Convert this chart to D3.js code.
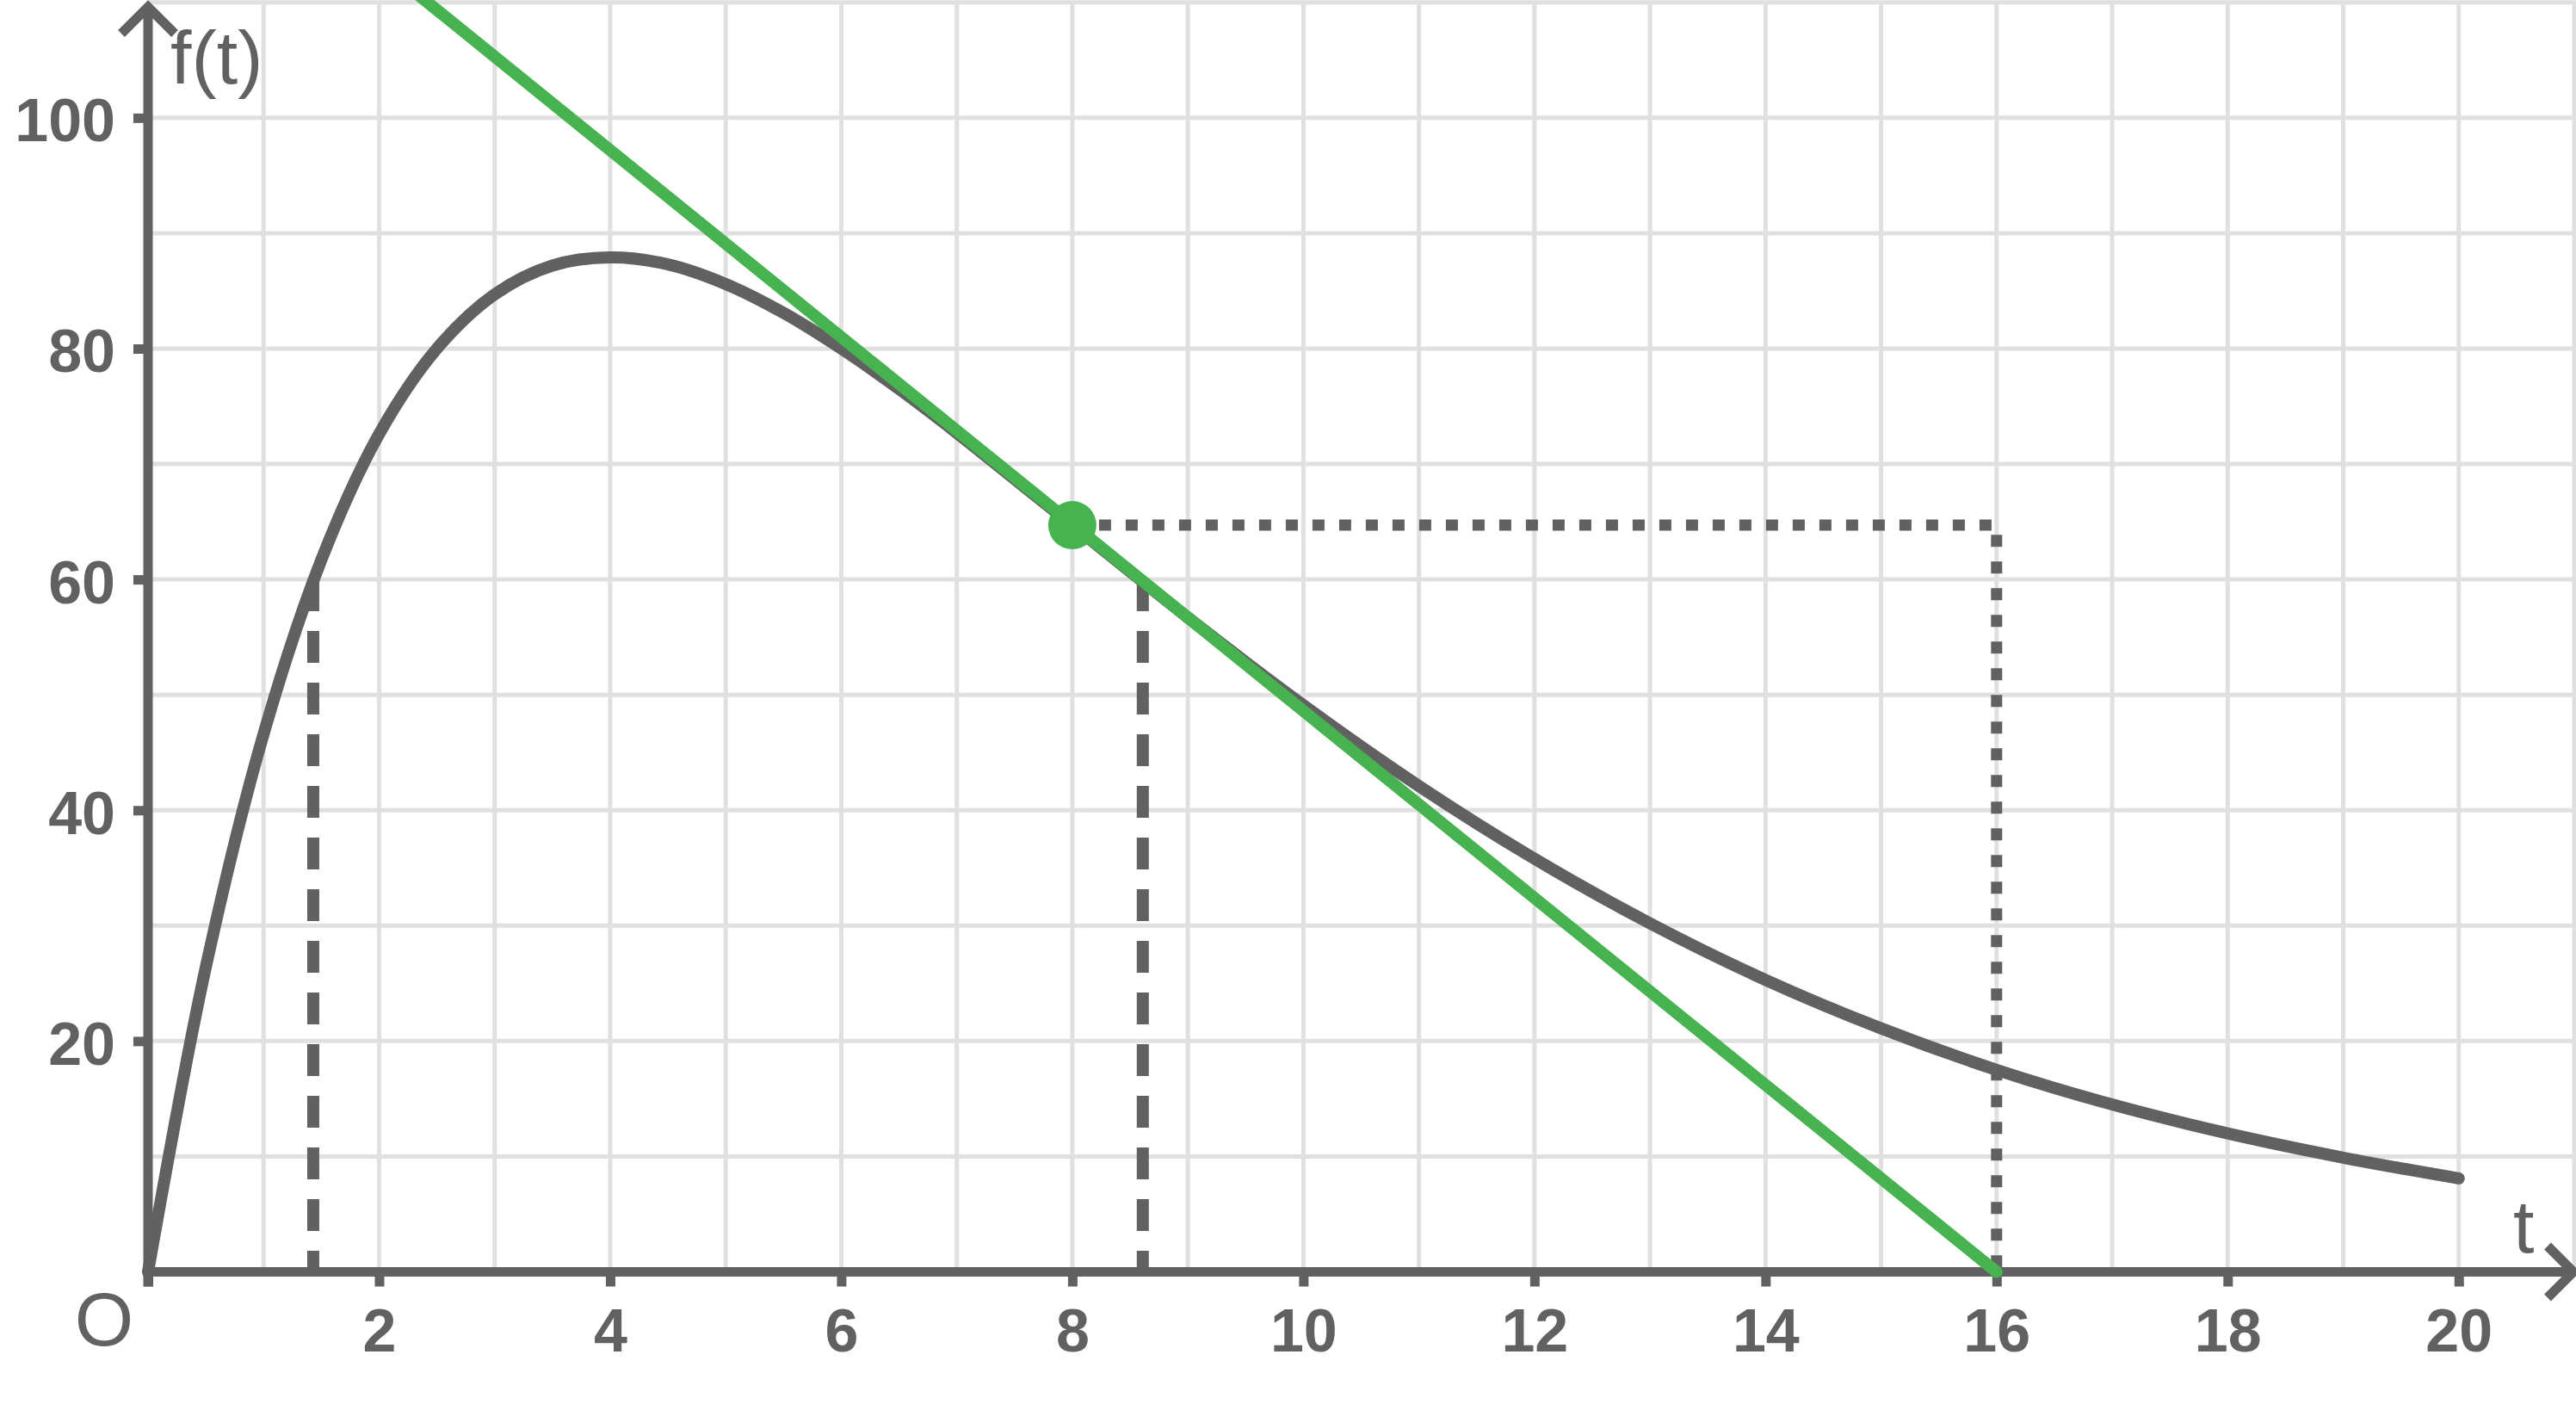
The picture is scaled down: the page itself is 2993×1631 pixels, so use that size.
<!DOCTYPE html>
<html>
<head>
<meta charset="utf-8">
<script src="https://cdnjs.cloudflare.com/ajax/libs/d3/7.8.5/d3.min.js"></script>
<style>
  html, body { margin: 0; padding: 0; background: #ffffff; }
  svg { display: block; }
</style>
</head>
<body>
<script>
// ---- data ----
const curveT = [0, 0.5, 1, 1.5, 2, 2.5, 3, 3.5, 4, 4.5, 5, 5.5, 6, 6.5, 7, 7.5, 8, 9, 10, 11, 12, 13, 14, 15, 16, 17, 18, 19, 20];
const curveF = [0, 26.4, 46.6, 61.7, 72.6, 80.0, 84.7, 87.2, 87.9, 87.3, 85.6, 83.1, 80.0, 76.5, 72.7, 68.7, 64.7, 56.7, 49.1, 42.1, 35.8, 30.2, 25.3, 21.1, 17.5, 14.5, 12.0, 9.9, 8.1];
const tangentT = [2, 16];
const tangentF = [113.4, 0];
const pointT = 8, pointF = 64.7;
const dashedT = [1.43, 8.61];     // where f(t) = 60
const dashedLevel = 60;
const dottedCorner = [16, 64.7];
const xTicks = [0, 2, 4, 6, 8, 10, 12, 14, 16, 18, 20];
const yTicks = [20, 40, 60, 80, 100];
const xGrid = d3.range(1, 22);
const yGrid = d3.range(10, 111, 10);

const W = 2993, H = 1631;
const GRAY = "#616161", GREEN = "#47b350", GRID = "#e0e0e0";

const svg = d3.select("body").append("svg").attr("width", W).attr("height", H);

const x = d3.scaleLinear().domain([0, 21]).range([172, 2991]);
const y = d3.scaleLinear().domain([0, 110]).range([1477.5, 2.8]);

// grid
const g = svg.append("g");
g.selectAll("line.v").data(xGrid).join("line")
  .attr("x1", d => x(d)).attr("x2", d => x(d))
  .attr("y1", y(110)).attr("y2", y(0))
  .attr("stroke", GRID).attr("stroke-width", 5);
g.selectAll("line.h").data(yGrid).join("line")
  .attr("x1", x(0)).attr("x2", W)
  .attr("y1", d => y(d)).attr("y2", d => y(d))
  .attr("stroke", GRID).attr("stroke-width", 5);

// dashed verticals
svg.selectAll("line.dash").data(dashedT).join("line")
  .attr("x1", d => x(d)).attr("x2", d => x(d))
  .attr("y1", y(dashedLevel)).attr("y2", y(0))
  .attr("stroke", GRAY).attr("stroke-width", 14)
  .attr("stroke-dasharray", "37,23");

// dotted lines
svg.append("path")
  .attr("d", `M${x(pointT)},${y(pointF)}H${x(dottedCorner[0])}V${y(0)}`)
  .attr("fill", "none").attr("stroke", GRAY).attr("stroke-width", 13)
  .attr("stroke-dasharray", "14,17");

// curve
const line = d3.line().x(d => x(d[0])).y(d => y(d[1])).curve(d3.curveCatmullRom.alpha(0.5));
svg.append("path")
  .attr("d", line(curveT.map((t, i) => [t, curveF[i]])))
  .attr("fill", "none").attr("stroke", GRAY).attr("stroke-width", 14)
  .attr("stroke-linecap", "round").attr("stroke-linejoin", "round");

// axes
const xAxis = d3.axisBottom(x).tickValues(xTicks).tickSize(17).tickFormat(d => d === 0 ? "" : d);
const xa = svg.append("g").attr("transform", `translate(0,${y(0)})`).call(xAxis);
xa.select(".domain").remove();
xa.selectAll(".tick line").attr("stroke", GRAY).attr("stroke-width", 11);
xa.selectAll(".tick text").attr("y", 92.5).attr("dy", 0)
  .attr("fill", GRAY).attr("font-family", "'Liberation Sans', Arial, sans-serif")
  .attr("font-weight", "bold").attr("font-size", 70);

const yAxis = d3.axisLeft(y).tickValues(yTicks).tickSize(17).tickFormat(d3.format("d"));
const ya = svg.append("g").attr("transform", `translate(${x(0)},0)`).call(yAxis);
ya.select(".domain").remove();
ya.selectAll(".tick line").attr("stroke", GRAY).attr("stroke-width", 11);
ya.selectAll(".tick text").attr("x", -38).attr("dy", 27)
  .attr("fill", GRAY).attr("font-family", "'Liberation Sans', Arial, sans-serif")
  .attr("font-weight", "bold").attr("font-size", 70);

// axis lines with arrows
svg.append("line").attr("x1", x(0)).attr("x2", x(0)).attr("y1", y(0) + 17).attr("y2", 8)
  .attr("stroke", GRAY).attr("stroke-width", 11);
svg.append("line").attr("x1", x(0) - 5.5).attr("x2", 2990).attr("y1", y(0)).attr("y2", y(0))
  .attr("stroke", GRAY).attr("stroke-width", 11);
svg.append("path").attr("d", `M${x(0) - 31},39L${x(0)},8L${x(0) + 31},39`)
  .attr("fill", "none").attr("stroke", GRAY).attr("stroke-width", 11);
svg.append("path").attr("d", `M2960,${y(0) - 30}L2990,${y(0)}L2960,${y(0) + 30}`)
  .attr("fill", "none").attr("stroke", GRAY).attr("stroke-width", 11);

// tangent
svg.append("path")
  .attr("d", d3.line().x(d => x(d[0])).y(d => y(d[1]))(tangentT.map((t, i) => [t, tangentF[i]])))
  .attr("fill", "none").attr("stroke", GREEN).attr("stroke-width", 14)
  .attr("stroke-linecap", "round");

// point
svg.append("circle").attr("cx", x(pointT)).attr("cy", y(pointF)).attr("r", 28).attr("fill", GREEN);

// labels
const lab = (txt, px, py, anchor) => svg.append("text").text(txt)
  .attr("x", px).attr("y", py).attr("text-anchor", anchor)
  .attr("fill", GRAY).attr("font-family", "'Liberation Sans', Arial, sans-serif").attr("font-size", 88);
lab("f(t)", 198, 97, "start");
lab("t", 2920, 1455, "start");
lab("O", 121, 1563, "middle");
</script>
</body>
</html>
